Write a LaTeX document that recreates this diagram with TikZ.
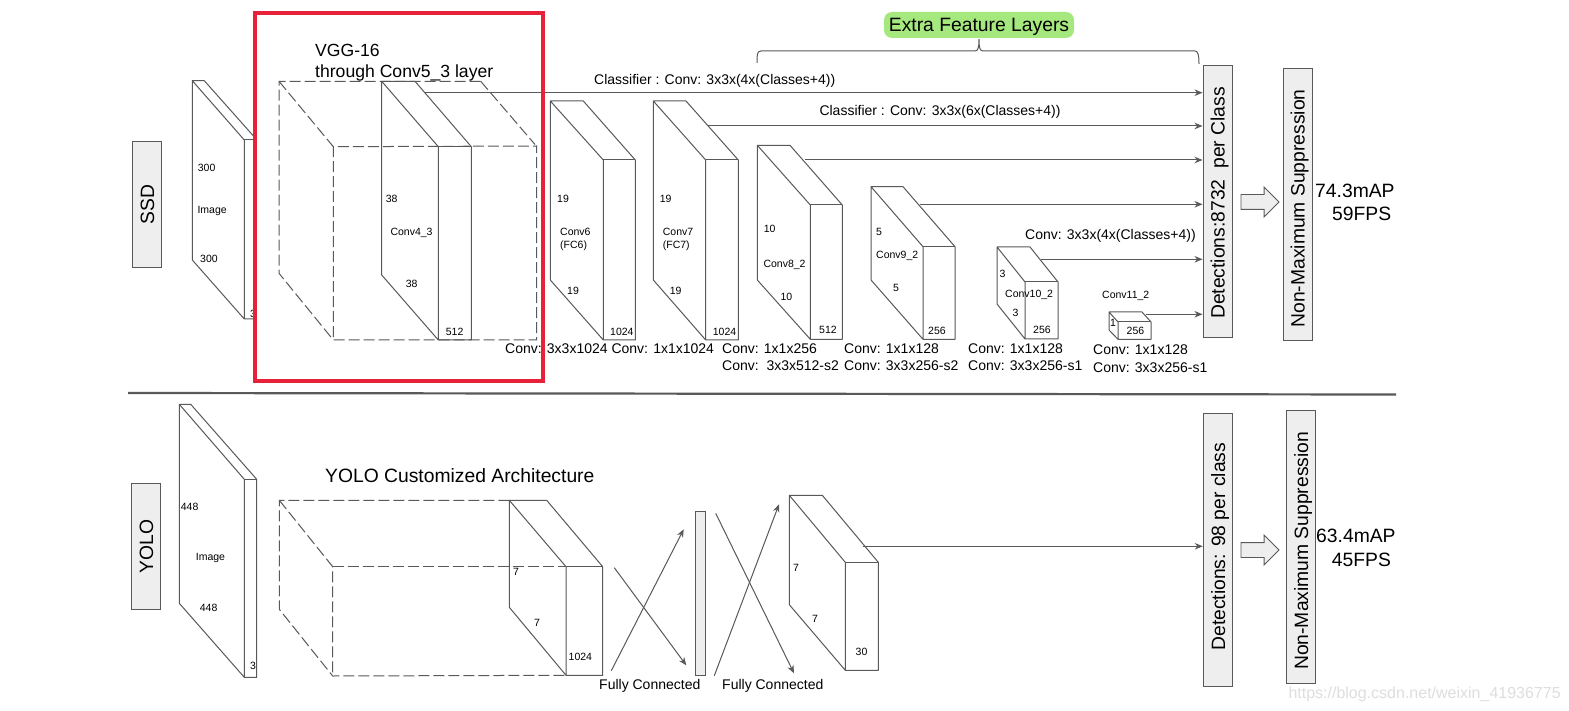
\documentclass[tikz,border=0pt]{standalone}
\usepackage{fontspec}
\setmainfont{Liberation Sans}
\usetikzlibrary{arrows.meta,shapes.arrows}
\definecolor{ln}{HTML}{595959}
\definecolor{bx}{HTML}{EEEEEE}
\definecolor{rd}{HTML}{E8213A}
\definecolor{gr}{HTML}{A5E87E}
\definecolor{wm}{HTML}{DEDEDE}
\tikzset{
  wire/.style={draw=ln,line width=1pt},
  dsh/.style={draw=ln,line width=1pt,dash pattern=on 11pt off 4pt},
  flow/.style={draw=ln,line width=1pt,-{Stealth[length=8pt,width=6.5pt]}},
  greybox/.style={draw=ln,fill=bx,line width=1pt,inner sep=0pt,rotate=90,text=black,text height=14pt,text depth=0pt},
  hollow/.style={single arrow,draw=ln,fill=bx,line width=0.9pt,inner sep=0pt,minimum height=38pt,single arrow head extend=7.5pt,single arrow head indent=0pt},
  tiny/.style={anchor=base west,inner sep=0pt,yshift=-0.7pt,font=\fontsize{10.5}{12}\selectfont},
  mid/.style={anchor=base west,inner sep=0pt,yshift=-0.7pt,font=\fontsize{14}{16}\selectfont},
  big/.style={anchor=base west,inner sep=0pt,yshift=-0.7pt,font=\fontsize{17.6}{20}\selectfont},
  huge/.style={anchor=base west,inner sep=0pt,font=\fontsize{19.3}{22}\selectfont},
  side/.style={font=\fontsize{19.3}{22}\selectfont},
}
% name, left x, top y, left-bottom y, front x, front top y, front bottom y, right x, back x
\newcommand{\cuboid}[9]{%
  \coordinate (#1-a) at (#2,#3);
  \coordinate (#1-b) at (#2,#4);
  \coordinate (#1-c) at (#5,#6);
  \coordinate (#1-d) at (#5,#7);
  \coordinate (#1-e) at (#8,#6);
  \coordinate (#1-f) at (#8,#7);
  \coordinate (#1-g) at (#9,#3);
  \draw[wire,line join=round] (#1-a) -- (#1-b) -- (#1-d) -- (#1-f) -- (#1-e) -- (#1-g) -- (#1-a) -- (#1-c) -- (#1-d);
  \draw[wire] (#1-c) -- (#1-e);
}
\begin{document}
\begin{tikzpicture}[x=1pt,y=-1pt]
\useasboundingbox (0,0) rectangle (1569,711);
\fill[white] (0,0) rectangle (1569,711);

% ---- SSD input image, partly hidden by the red frame
\cuboid{img}{192.3}{80.7}{260}{244.3}{140}{319}{257}{204.3}
\node[tiny] (t300a) at (197.7,170.7) {300};
\node[tiny] (timg) at (197.3,213.3) {Image};
\node[tiny] (t300b) at (200,261.7) {300};
\node[tiny] (t3a) at (250,317) {3};
\coordinate (rf1) at (255,13);
\coordinate (rf2) at (543,381);
\fill[white] (rf1) rectangle (rf2);

% ---- side boxes
\node[greybox,minimum width=126pt,minimum height=29.4pt,side] (ssd) at (147,204.3) {SSD};
\node[greybox,minimum width=126pt,minimum height=29.4pt,side] (yolo) at (146,546.3) {YOLO};
\node[greybox,minimum width=272pt,minimum height=29.4pt,side] (det1) at (1217.7,202) {Detections:8732\ \ per Class\hspace*{2pt}};
\node[greybox,minimum width=272pt,minimum height=29.4pt,side] (nms1) at (1297.7,204.5) {Non-Maximum Suppression\hspace*{8pt}};
\node[greybox,minimum width=272.7pt,minimum height=29.4pt,side] (det2) at (1218,549.7) {\hspace*{6pt}Detections: 98 per class};
\node[greybox,minimum width=273pt,minimum height=29.4pt,side] (nms2) at (1301,546.8) {Non-Maximum Suppression\hspace*{8pt}};
\node[hollow] (ha1) at (1256.3,202) {\rule{0pt}{14pt}};
\node[hollow] (ha2) at (1256.3,550) {\rule{0pt}{14pt}};

% ---- VGG dashed block
\coordinate (va) at (279,81.3);
\coordinate (vb) at (279,273.3);
\coordinate (vc) at (333.3,146.7);
\coordinate (vd) at (333.3,340);
\coordinate (ve) at (536.7,146);
\coordinate (vf) at (536.7,340);
\coordinate (vg) at (480.7,81.3);
\coordinate (vh) at (535,144.5);
\draw[dsh] (vg) -- (va) -- (vb) -- (vd) -- (vf) -- (ve) -- (vc) -- (vd);
\draw[dsh] (va) -- (vc);
\draw[dsh] (vg) -- (vh);
\node[big] (vgg1) at (315,55.7) {VGG-16};
\node[big] (vgg2) at (315,77.3) {through Conv5\_3 layer};

% ---- SSD feature blocks
\cuboid{c4}{381.7}{81.3}{275}{438.3}{146.7}{340}{471.3}{415}
\node[tiny] (t38a) at (385.7,201.7) {38};
\node[tiny] (tc4) at (390.3,235) {Conv4\_3};
\node[tiny] (t38b) at (405.7,286.7) {38};
\node[tiny] (t512a) at (445.7,335) {512};

\cuboid{c6}{550.3}{101}{280}{603.3}{160}{340}{635.3}{583.3}
\node[tiny] (t19a) at (557,201.7) {19};
\node[tiny] (tc6a) at (560,235) {Conv6};
\node[tiny] (tc6b) at (560,248.3) {(FC6)};
\node[tiny] (t19b) at (567,294) {19};
\node[tiny] (t1024a) at (610,335) {1024};

\cuboid{c7}{653.3}{101}{280}{705.7}{160}{340}{738.3}{686}
\node[tiny] (t19c) at (659.7,201.7) {19};
\node[tiny] (tc7a) at (662.7,235) {Conv7};
\node[tiny] (tc7b) at (662.7,248.3) {(FC7)};
\node[tiny] (t19d) at (669.7,294) {19};
\node[tiny] (t1024b) at (712.7,335) {1024};

\cuboid{c8}{757.3}{145.3}{280}{810.3}{205}{339.3}{842.3}{790}
\node[tiny] (t10a) at (763.7,232.3) {10};
\node[tiny] (tc8) at (763.3,267.3) {Conv8\_2};
\node[tiny] (t10b) at (780.3,300) {10};
\node[tiny] (t512b) at (819,333) {512};

\cuboid{c9}{871}{186.7}{280}{923}{246.7}{339.3}{955}{903}
\node[tiny] (t5a) at (876,234.7) {5};
\node[tiny] (tc9) at (876,257.7) {Conv9\_2};
\node[tiny] (t5b) at (893,290.7) {5};
\node[tiny] (t256a) at (928,333.7) {256};

\cuboid{c10}{997}{247}{304}{1025}{282}{339}{1058}{1030}
\node[tiny] (t3b) at (999.5,276.7) {3};
\node[tiny] (tc10) at (1005,296.7) {Conv10\_2};
\node[tiny] (t3c) at (1012.5,315.7) {3};
\node[tiny] (t256b) at (1033,332.7) {256};

\cuboid{c11}{1109}{312}{330}{1118}{322}{339.3}{1151}{1142}
\node[tiny] (tc11) at (1102,297.7) {Conv11\_2};
\node[tiny] (t1) at (1110,326) {1};
\node[tiny] (t256c) at (1126.5,333.7) {256};

% ---- connectors to Detections
\coordinate (o4) at (425,92.7);
\coordinate (o7) at (708,126);
\coordinate (o8) at (805,160);
\coordinate (o9) at (920,204.3);
\coordinate (o10) at (1041,259.3);
\coordinate (o11) at (1146,314.3);
\draw[flow] (o4) -- (o4 -| det1.north);
\draw[flow] (o7) -- (o7 -| det1.north);
\draw[flow] (o8) -- (o8 -| det1.north);
\draw[flow] (o9) -- (o9 -| det1.north);
\draw[flow] (o10) -- (o10 -| det1.north);
\draw[flow] (o11) -- (o11 -| det1.north);

% ---- texts of the SSD row
\node[mid] (cl1) at (594,84) {Classifier : Conv: 3x3x(4x(Classes+4))};
\node[mid] (cl2) at (819.3,115) {Classifier : Conv: 3x3x(6x(Classes+4))};
\node[mid] (cl3) at (1025,238.7) {Conv: 3x3x(4x(Classes+4))};
\node[mid] (k1) at (505,352.7) {Conv: 3x3x1024};
\node[mid] (k2) at (611.3,352.7) {Conv: 1x1x1024};
\node[mid] (k3) at (722,352.7) {Conv: 1x1x256};
\node[mid] (k3b) at (722,370) {Conv:\ \ 3x3x512-s2};
\node[mid] (k4) at (844,352.7) {Conv: 1x1x128};
\node[mid] (k4b) at (844,370) {Conv: 3x3x256-s2};
\node[mid] (k5) at (968,352.7) {Conv: 1x1x128};
\node[mid] (k5b) at (968,370) {Conv: 3x3x256-s1};
\node[mid] (k6) at (1093,354.3) {Conv: 1x1x128};
\node[mid] (k6b) at (1093,371.3) {Conv: 3x3x256-s1};

% ---- Extra feature layers
\node[fill=gr,rounded corners=8pt,minimum width=190pt,minimum height=26pt,inner sep=0pt,text height=14pt,text depth=0pt,font=\fontsize{19.3}{22}\selectfont] (extra) at (979,25) {Extra Feature Layers};
\coordinate (bl) at (757,63);
\coordinate (bm) at (979,39);
\coordinate (br) at (1199,64);
\draw[draw=ln,line width=1pt] (bl) .. controls (757,55) and (757,51) .. (761,51) -- (975,51) .. controls (978,51) and (979,48) .. (bm) .. controls (979,48) and (980,51) .. (983,51) -- (1195,51) .. controls (1198,51) and (1199,55) .. (br);

\node[huge] (m1) at (1315,198) {74.3mAP};
\node[huge] (m2) at (1332,221) {59FPS};

% ---- divider
\coordinate (dl) at (128,393);
\coordinate (dr) at (1396,394.5);
\draw[draw=ln,line width=2.2pt] (dl) -- (dr);

% ---- YOLO row
\cuboid{yi}{179.3}{404.3}{603.3}{244.3}{479.3}{677.3}{256.7}{190.7}
\node[tiny] (y448a) at (180.7,510) {448};
\node[tiny] (yimg) at (195.7,559.5) {Image};
\node[tiny] (y448b) at (199.7,610.5) {448};
\node[tiny] (y3) at (250,669) {3};

\node[huge] (yt) at (325,482) {YOLO Customized Architecture};

\coordinate (ya) at (279.3,500.3);
\coordinate (yb) at (279.3,609.3);
\coordinate (yc) at (332.7,566.7);
\coordinate (yd) at (332.7,676);
\coordinate (ye) at (566,566.7);
\coordinate (yf) at (566,675.3);
\coordinate (yg) at (509.3,500.3);
\draw[dsh] (yg) -- (ya) -- (yb) -- (yd) -- (yf);
\draw[dsh] (ya) -- (yc) -- (yd);
\draw[dsh] (yc) -- (ye);

\cuboid{y1}{509.3}{500.3}{607.3}{566}{566.7}{675.3}{602.7}{546.7}
\node[tiny] (y7a) at (513,575) {7};
\node[tiny] (y7b) at (534,626) {7};
\node[tiny] (y1024) at (568.5,659.5) {1024};

\node[draw=ln,fill=bx,line width=1pt,inner sep=0pt,minimum width=10.4pt,minimum height=164pt] (fc) at (700.5,593.3) {};

\coordinate (f1s) at (614.3,567.7);
\coordinate (f1e) at (686.3,665.3);
\coordinate (f2s) at (611.3,670.7);
\coordinate (f2e) at (683.7,529.3);
\coordinate (f3s) at (715.7,513.3);
\coordinate (f3e) at (794,673.3);
\coordinate (f4s) at (714.3,675.7);
\coordinate (f4e) at (779,504.3);
\draw[flow] (f1s) -- (f1e);
\draw[flow] (f2s) -- (f2e);
\draw[flow] (f3s) -- (f3e);
\draw[flow] (f4s) -- (f4e);

\node[mid] (fca) at (599,689) {Fully Connected};
\node[mid] (fcb) at (722,689) {Fully Connected};

\cuboid{y2}{789.3}{495.3}{604.7}{845.3}{562.3}{670.3}{878.3}{822.3}
\node[tiny] (y7c) at (793,571) {7};
\node[tiny] (y7d) at (812,622) {7};
\node[tiny] (y30) at (855.5,655) {30};

\coordinate (oy) at (863.3,546.3);
\draw[flow] (oy) -- (oy -| det2.north);

\node[huge] (m3) at (1316,542.5) {63.4mAP};
\node[huge] (m4) at (1331.7,566) {45FPS};

\node[anchor=base west,inner sep=0pt,text=wm,font=\fontsize{16}{18}\selectfont] (wmk) at (1288.3,698) {https://blog.csdn.net/weixin\_41936775};

% ---- red frame on top
\draw[rd,line width=4pt] (rf1) rectangle (rf2);
\end{tikzpicture}
\end{document}
